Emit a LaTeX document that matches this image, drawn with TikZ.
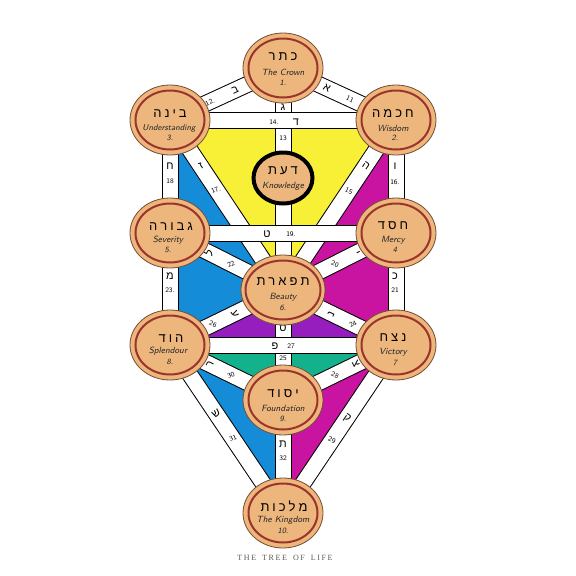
\documentclass[tikz,border=0pt]{standalone}
\usepackage{fontspec}
\newfontfamily\hebfont[Script=Hebrew]{Liberation Sans}
\newfontfamily\titlefont{Liberation Serif}
\TeXXeTstate=1
\usetikzlibrary{shapes.geometric}
\definecolor{sfill}{RGB}{236,182,125}
\definecolor{sring}{RGB}{155,52,42}
\definecolor{sborder}{RGB}{120,75,50}
\definecolor{cyel}{RGB}{248,240,55}
\definecolor{cblue}{RGB}{20,140,215}
\definecolor{cmag}{RGB}{200,20,160}
\definecolor{cpur}{RGB}{150,30,190}
\definecolor{cgrn}{RGB}{20,178,140}
\pgfdeclarelayer{back}
\pgfdeclarelayer{mid}
\pgfsetlayers{back,mid,main}
\begin{document}
\begin{tikzpicture}[x=1pt,y=-1pt,
 seph/.style={ellipse,minimum width=80pt,minimum height=70pt,inner sep=0pt,fill=sfill,draw=sborder,line width=0.8pt},
 ring/.style={draw=sring,line width=2pt},
 hebt/.style={font=\hebfont\fontsize{13}{13}\selectfont,inner sep=0pt},
 engt/.style={font=\sffamily\itshape\fontsize{9}{9}\selectfont,inner sep=0pt,text=black!85},
 numt/.style={font=\sffamily\itshape\fontsize{8}{8}\selectfont,inner sep=0pt,text=black!85},
 pout/.style={line width=17pt,black},
 pin/.style={line width=15pt,white},
 pbar/.style={line width=1pt,draw=black,double=white,double distance=15pt},
 plet/.style={font=\hebfont\fontsize{11}{11}\selectfont,inner sep=0pt},
 pnum/.style={font=\sffamily\fontsize{7}{7}\selectfont,inner sep=0pt},
 ttl/.style={font=\titlefont\fontsize{8}{8}\selectfont,inner sep=0pt,text=black!65}
]
\useasboundingbox (0,0) rectangle (576,576);
% sephirot
\node[seph] (K) at (283,68) {};
\node[seph] (Ch) at (396,120) {};
\node[seph] (B) at (170,120) {};
\node[ellipse,minimum width=59pt,minimum height=51pt,fill=sfill,draw=black,line width=4pt,inner sep=0pt] (D) at (283,178) {};
\node[seph] (G) at (170,233) {};
\node[seph] (Cs) at (396,233) {};
\node[seph,minimum width=84pt] (T) at (283,290) {};
\node[seph] (H) at (170,345) {};
\node[seph] (N) at (396,345) {};
\node[seph] (Y) at (283,400) {};
\node[seph] (M) at (283,513) {};
\foreach \n in {K,Ch,B,G,Cs,H,N,Y,M} \draw[ring] (\n.center) ellipse [x radius=34.5pt,y radius=29.5pt];
\draw[ring] (T.center) ellipse [x radius=37.5pt,y radius=29.5pt];
% texts in sephirot
\node[hebt] (Kh) at (283,57) {\beginR כ\kern3pt ת\kern3pt ר\endR};
\node[engt] (Ke) at (283,72) {The Crown};
\node[numt] (Kn) at (283,83) {1.};
\node[hebt] (Chh) at (393,114) {\beginR ח\kern3pt כ\kern3pt מ\kern3pt ה\endR};
\node[engt] (Che) at (393,128) {Wisdom};
\node[numt] (Chn) at (395,138) {2.};
\node[hebt] (Bh) at (170,114) {\beginR ב\kern3pt י\kern3pt נ\kern3pt ה\endR};
\node[engt,font=\sffamily\itshape\fontsize{8.3}{8.3}\selectfont] (Be) at (169,128) {Understanding};
\node[numt] (Bn) at (170,138) {3.};
\node[hebt] (Dh) at (283,171) {\beginR ד\kern3pt ע\kern3pt ת\endR};
\node[engt] (De) at (283,186) {Knowledge};
\node[hebt] (Gh) at (171,227) {\beginR ג\kern3pt ב\kern3pt ו\kern3pt ר\kern3pt ה\endR};
\node[engt] (Ge) at (168,240) {Severity};
\node[numt] (Gn) at (168,250) {5.};
\node[hebt] (Csh) at (393,226) {\beginR ח\kern3pt ס\kern3pt ד\endR};
\node[engt] (Cse) at (393,240) {Mercy};
\node[numt] (Csn) at (395,250) {4};
\node[hebt] (Th) at (283,282) {\beginR ת\kern3pt פ\kern3pt א\kern3pt ר\kern3pt ת\endR};
\node[engt] (Te) at (283,297) {Beauty};
\node[numt] (Tn) at (283,308) {6.};
\node[hebt] (Hh) at (171,339) {\beginR ה\kern3pt ו\kern3pt ד\endR};
\node[engt] (He) at (168,351) {Splendour};
\node[numt] (Hn) at (170,362) {8.};
\node[hebt] (Nh) at (393,338) {\beginR נ\kern3pt צ\kern3pt ח\endR};
\node[engt] (Ne) at (393,352) {Victory};
\node[numt] (Nn) at (395,363) {7};
\node[hebt] (Yh) at (283,394) {\beginR י\kern3pt ס\kern3pt ו\kern3pt ד\endR};
\node[engt] (Ye) at (283,408) {Foundation};
\node[numt] (Yn) at (283,419) {9.};
\node[hebt] (Mh) at (284,506) {\beginR מ\kern3pt ל\kern3pt כ\kern3pt ו\kern3pt ת\endR};
\node[engt] (Me) at (283,520) {The Kingdom};
\node[numt] (Mn) at (283,531) {10.};
% title
\node[ttl] (title) at (285,558) {T\kern1.6pt H\kern1.6pt E\hspace{6pt}T\kern1.6pt R\kern1.6pt E\kern1.6pt E\hspace{6pt}O\kern1.6pt F\hspace{6pt}L\kern1.6pt I\kern1.6pt F\kern1.6pt E};
\begin{pgfonlayer}{back}
\fill[white] (0,0) rectangle (576,576);
\fill[cyel] (B.center) -- (Ch.center) -- (T.center) -- cycle;
\fill[cblue] (B.center) -- (T.center) -- (H.center) -- cycle;
\fill[cmag] (Ch.center) -- (T.center) -- (N.center) -- cycle;
\fill[cpur] (H.center) -- (T.center) -- (N.center) -- cycle;
\fill[cgrn] (H.center) -- (N.center) -- (Y.center) -- cycle;
\fill[cblue] (H.center) -- (Y.center) -- (M.center) -- cycle;
\fill[cmag] (N.center) -- (Y.center) -- (M.center) -- cycle;
\foreach \s in {pout,pin}{
 \draw[\s] (K.center) -- (Ch.center);
 \draw[\s] (K.center) -- (B.center);
 \draw[\s] (K.center) -- (T.center);
 \draw[\s] (Ch.center) -- (T.center);
 \draw[\s] (Ch.center) -- (Cs.center);
 \draw[\s] (B.center) -- (T.center);
 \draw[\s] (B.center) -- (G.center);
 \draw[\s] (Cs.center) -- (T.center);
 \draw[\s] (Cs.center) -- (N.center);
 \draw[\s] (G.center) -- (T.center);
 \draw[\s] (G.center) -- (H.center);
 \draw[\s] (N.center) -- (T.center);
 \draw[\s] (T.center) -- (Y.center);
 \draw[\s] (H.center) -- (T.center);
 \draw[\s] (N.center) -- (Y.center);
 \draw[\s] (N.center) -- (M.center);
 \draw[\s] (H.center) -- (Y.center);
 \draw[\s] (H.center) -- (M.center);
 \draw[\s] (Y.center) -- (M.center);
}
\end{pgfonlayer}
\begin{pgfonlayer}{mid}
\draw[pbar] (B.center) -- (Ch.center);
\draw[pbar] (G.center) -- (Cs.center);
\draw[pbar] (H.center) -- (N.center);
% path labels
\node[plet,rotate=25] (l12) at (235,90) {ב};
\node[pnum,rotate=25] (n12) at (210,102) {12.};
\node[plet,rotate=-25] (l11) at (327,88) {א};
\node[pnum,rotate=-25] (n11) at (350,99) {11};
\node[plet] (l13) at (283,107) {ג};
\node[pnum] (n13) at (283,138) {13};
\node[pnum] (n14) at (274,122) {14.};
\node[plet] (l14) at (296,122) {ד};
\node[plet,rotate=-34] (l15) at (366,166) {ה};
\node[pnum,rotate=-22] (n15) at (349,191) {15};
\node[plet] (l16) at (395,166) {ו};
\node[pnum] (n16) at (395,182) {16.};
\node[plet,rotate=34] (l17) at (201,166) {ז};
\node[pnum,rotate=22] (n17) at (216,190) {17.};
\node[plet] (l18) at (170,166) {ח};
\node[pnum] (n18) at (170,181) {18};
\node[plet] (l19) at (267,234) {ט};
\node[pnum] (n19) at (291,234) {19.};
\node[plet,rotate=-63] (l20) at (357,253) {י};
\node[pnum,rotate=-24] (n20) at (335,264) {20};
\node[plet,rotate=63] (l22) at (209,253) {ל};
\node[pnum,rotate=24] (n22) at (231,264) {22};
\node[plet] (l21) at (395,276) {כ};
\node[pnum] (n21) at (395,290) {21};
\node[plet] (l23) at (170,276) {מ};
\node[pnum] (n23) at (170,290) {23.};
\node[plet,rotate=64] (l24) at (331,314) {נ};
\node[pnum,rotate=24] (n24) at (353,324) {24};
\node[plet] (l25) at (283,328) {ס};
\node[pnum] (n25) at (283,358) {25};
\node[plet,rotate=-64] (l26) at (235,314) {ע};
\node[pnum,rotate=-24] (n26) at (213,324) {26};
\node[plet] (l27) at (275,346) {פ};
\node[pnum] (n27) at (291,346) {27};
\node[plet,rotate=-64] (l28) at (356,364) {צ};
\node[pnum,rotate=-24] (n28) at (335,375) {28};
\node[plet,rotate=-34] (l29) at (347,418) {ק};
\node[pnum,rotate=-22] (n29) at (332,440) {29};
\node[plet,rotate=64] (l30) at (210,364) {ר};
\node[pnum,rotate=24] (n30) at (231,375) {30};
\node[plet,rotate=34] (l31) at (216,414) {ש};
\node[pnum,rotate=22] (n31) at (233,438) {31};
\node[plet] (l32) at (283,444) {ת};
\node[pnum] (n32) at (283,458) {32};
\end{pgfonlayer}
\end{tikzpicture}
\end{document}
